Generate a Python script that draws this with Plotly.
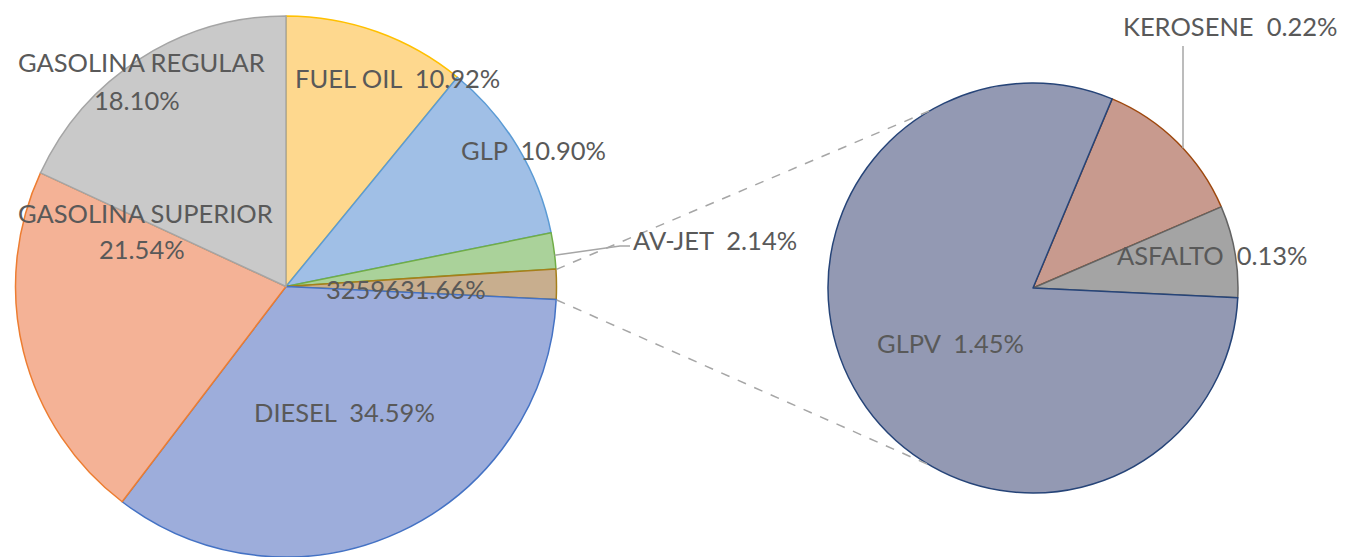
import numpy as np
import plotly.graph_objects as go

W, H = 1356, 557

# ---------------- data ----------------
main_labels = ["FUEL OIL", "GLP", "AV-JET", "DIESEL", "GASOLINA SUPERIOR", "GASOLINA REGULAR"]
main_values = [10.92, 10.90, 2.14, 34.59, 21.54, 18.10]
sub_labels = ["KEROSENE", "ASFALTO", "GLPV"]
sub_values = [0.22, 0.13, 1.45]
other_label_text = "3259631.66%"

other_value = sum(sub_values)
pie_labels = main_labels[:3] + ["OTRO"] + main_labels[3:]
pie_values = main_values[:3] + [other_value] + main_values[3:]

# ---------------- style ----------------
pie_fill = ["#FED88E", "#A0BFE6", "#AAD29A", "#C8AE8E", "#9DADDB", "#F4B296", "#C9C9C9"]
pie_line = ["#FFC000", "#5B9BD5", "#70AD47", "#A67F1A", "#4472C4", "#ED7D31", "#A5A5A5"]
sub_fill = ["#C89A8E", "#A4A4A4", "#9399B3"]
sub_line = ["#9E480E", "#636363", "#264478"]

LC, LR = (286, 287), 271      # left pie centre / radius (px)
RC, RR = (1033, 288), 205     # right pie centre / radius (px)
SUB_ROT = 22.7

def px(x):
    return x / W

def py(y):
    return 1 - y / H

def pt(c, r, ang):
    a = np.deg2rad(ang)
    return c[0] + r * np.sin(a), c[1] - r * np.cos(a)

fig = go.Figure()
fig.add_trace(go.Pie(
    labels=pie_labels, values=pie_values, sort=False, direction="clockwise", rotation=0,
    textinfo="none", showlegend=False, hoverinfo="label+percent",
    marker=dict(colors=pie_fill, line=dict(color=pie_line, width=1.5)),
    domain=dict(x=[px(LC[0] - LR), px(LC[0] + LR)], y=[max(0, py(LC[1] + LR)), py(LC[1] - LR)]),
))
fig.add_trace(go.Pie(
    labels=sub_labels, values=sub_values, sort=False, direction="clockwise", rotation=SUB_ROT,
    textinfo="none", showlegend=False, hoverinfo="label+value",
    marker=dict(colors=sub_fill, line=dict(color=sub_line, width=1.5)),
    domain=dict(x=[px(RC[0] - RR), px(RC[0] + RR)], y=[py(RC[1] + RR), py(RC[1] - RR)]),
))

total = sum(pie_values)
cum = np.cumsum([0] + pie_values) / total * 360
a_top, a_bot = cum[3], cum[4]
shapes = []
for a_left, a_right in [(a_top, 330), (a_bot, 210)]:
    x0, y0 = pt(LC, LR, a_left)
    x1, y1 = pt(RC, RR, a_right)
    shapes.append(dict(type="line", xref="paper", yref="paper", x0=px(x0), y0=py(y0),
                       x1=px(x1), y1=py(y1), line=dict(color="#A6A6A6", width=1.5, dash="dash")))

# AV-JET leader
avjet_mid = (cum[2] + cum[3]) / 2
ax0, ay0 = pt(LC, LR, avjet_mid)
shapes.append(dict(type="path", xref="paper", yref="paper",
                   path=f"M {px(ax0)} {py(ay0 + 4)} L {px(620)} {py(246)} L {px(630)} {py(246)}",
                   line=dict(color="#A6A6A6", width=1.5)))
# KEROSENE leader
kx = 1183
ky = RC[1] - np.sqrt(RR ** 2 - (kx - RC[0]) ** 2)
shapes.append(dict(type="line", xref="paper", yref="paper", x0=px(kx), y0=py(46),
                   x1=px(kx), y1=py(ky), line=dict(color="#A6A6A6", width=1.5)))

def fmt(lbl, v):
    return f"{lbl}  {v:.2f}%"

label_pos = [
    (main_labels[5], 141, 62, "center"),
    (f"{main_values[5]:.2f}%", 137, 100, "center"),
    (fmt(main_labels[0], main_values[0]), 397, 78, "center"),
    (fmt(main_labels[1], main_values[1]), 533, 150, "center"),
    (main_labels[4], 145, 213, "center"),
    (f"{main_values[4]:.2f}%", 142, 249, "center"),
    (fmt(main_labels[2], main_values[2]), 631, 240, "left"),
    (other_label_text, 406, 289, "center"),
    (fmt(main_labels[3], main_values[3]), 344, 412, "center"),
    (fmt(sub_labels[0], sub_values[0]), 1230, 26, "center"),
    (fmt(sub_labels[1], sub_values[1]), 1212, 255, "center"),
    (fmt(sub_labels[2], sub_values[2]), 950, 343, "center"),
]
annotations = [
    dict(text=t, x=px(x), y=py(y), xref="paper", yref="paper", xanchor=anc, yanchor="middle",
         showarrow=False, font=dict(family="Lato", size=25.5, color="#595959"))
    for t, x, y, anc in label_pos
]

fig.update_layout(
    width=W, height=H, margin=dict(l=0, r=0, t=0, b=0),
    paper_bgcolor="white", plot_bgcolor="white",
    shapes=shapes, annotations=annotations,
)
fig.write_html("out.html", config={"displayModeBar": False},
               post_script="document.body.style.margin='0';document.body.style.overflow='hidden';")
